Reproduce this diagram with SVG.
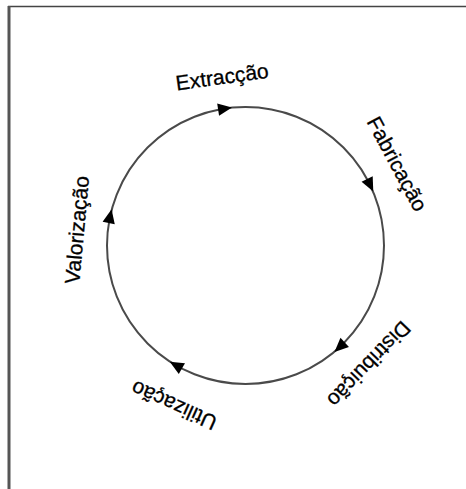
<svg xmlns="http://www.w3.org/2000/svg" width="466" height="489" viewBox="0 0 466 489">
<style>
.lbl{font-family:"Liberation Sans",Arial,sans-serif;font-size:21px;fill:#000;stroke:#000;stroke-width:0.3;text-anchor:middle}
.ring{fill:none;stroke:#4a4a4a;stroke-width:2}
.arr{fill:#000}
</style>
<defs>
<path id="tri" d="M253,107 L239,100.8 L239,113.2 Z"/>
</defs>
<rect width="466" height="489" fill="#fff"/>
<g id="frame">
<line x1="8" y1="6.5" x2="466" y2="6.5" stroke="#444" stroke-width="1.6"/>
<line x1="9" y1="6" x2="9" y2="489" stroke="#555" stroke-width="3"/>
</g>
<g id="connectors">
<circle class="ring" cx="245.5" cy="245.5" r="138.5"/>
<use href="#tri" class="arr" transform="rotate(-8.7 245.5 245.5)"/>
<use href="#tri" class="arr" transform="rotate(64 245.5 245.5)"/>
<use href="#tri" class="arr" transform="rotate(137 245.5 245.5)"/>
<use href="#tri" class="arr" transform="rotate(210 245.5 245.5)"/>
<use href="#tri" class="arr" transform="rotate(282 245.5 245.5)"/>
</g>
<g id="extraccao"><text class="lbl" x="245.5" y="82.5" transform="rotate(-7.9 245.5 245.5)">Extracção</text></g>
<g id="fabricacao"><text class="lbl" x="245.5" y="80.5" transform="rotate(61.7 245.5 245.5)">Fabricação</text></g>
<g id="distribuicao"><text class="lbl" x="245.5" y="81.5" transform="rotate(133.8 245.5 245.5)">Distribuição</text></g>
<g id="utilizacao"><text class="lbl" x="245.5" y="77.5" transform="rotate(204.1 245.5 245.5)">Utilização</text></g>
<g id="valorizacao"><text class="lbl" x="245.5" y="83.5" transform="rotate(-84.7 245.5 245.5)">Valorização</text></g>
</svg>
